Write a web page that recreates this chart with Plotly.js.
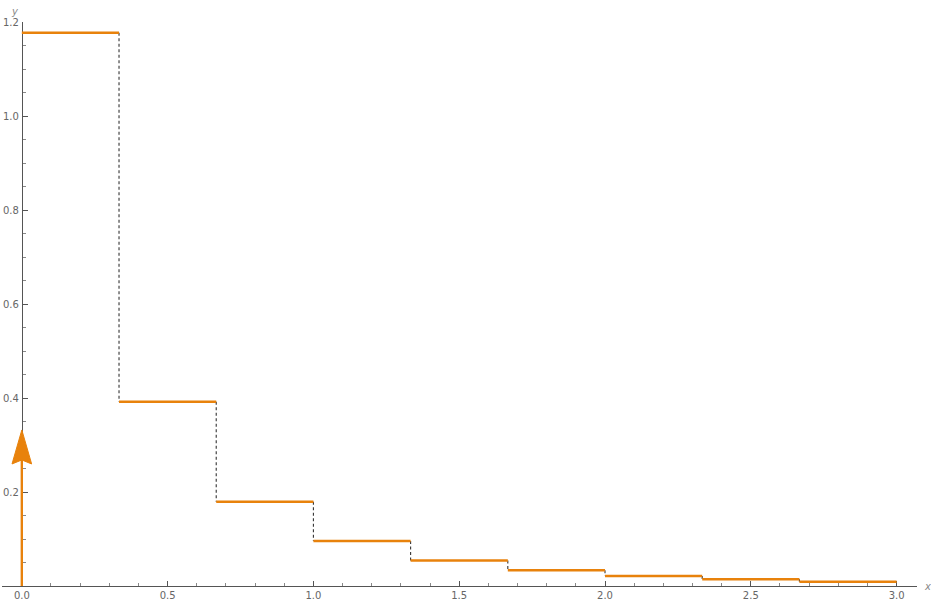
<!DOCTYPE html>
<html>
<head>
<meta charset="utf-8">
<script src="https://cdn.plot.ly/plotly-3.0.1.min.js"></script>
<style>html,body{margin:0;padding:0;background:#fff;}#chart{width:931px;height:605px;}</style>
</head>
<body>
<div id="chart"></div>
<script>
// Data
const stepEdges = [0, 1/3, 2/3, 1, 4/3, 5/3, 2, 7/3, 8/3, 3];
const stepValues = [1.177, 0.392, 0.179, 0.0955, 0.0545, 0.0333, 0.0212, 0.0142, 0.0091];
const deltaPosition = 0;
const deltaHeight = 0.332;
const xTickVals = [0, 0.5, 1, 1.5, 2, 2.5, 3];
const yTickVals = [0.2, 0.4, 0.6, 0.8, 1.0, 1.2];

const ORANGE = '#E8820C';
const W = 931, H = 605;
const M = {l: 2, r: 14, t: 22, b: 19};
const xRange = [-0.068, 3.07], yRange = [0, 1.2];
const pxPerX = (W - M.l - M.r) / (xRange[1] - xRange[0]);
const pxPerY = (H - M.t - M.b) / (yRange[1] - yRange[0]);
const yAxisPos = (0 - xRange[0]) / (xRange[1] - xRange[0]);

// horizontal segments
const hx = [], hy = [];
for (let i = 0; i < stepValues.length; i++) {
  hx.push(stepEdges[i], stepEdges[i+1], null);
  hy.push(stepValues[i], stepValues[i], null);
}
// dashed verticals
const vx = [], vy = [];
for (let i = 1; i < stepValues.length; i++) {
  vx.push(stepEdges[i], stepEdges[i], null);
  vy.push(stepValues[i-1], stepValues[i], null);
}
// arrow (delta spike)
const headLen = 34 / pxPerY, headHalfW = 9.8 / pxPerX, notch = 4 / pxPerY;
const tipY = deltaHeight;
const headX = [deltaPosition, deltaPosition + headHalfW, deltaPosition, deltaPosition - headHalfW, deltaPosition];
const headY = [tipY, tipY - headLen, tipY - headLen + notch, tipY - headLen, tipY];

const traces = [
  {x: vx, y: vy, mode: 'lines', line: {color: '#333', width: 1.1, dash: '3px,2.5px'}, hoverinfo: 'skip', cliponaxis: false},
  {x: hx, y: hy, mode: 'lines', line: {color: ORANGE, width: 2.5}, hoverinfo: 'skip', cliponaxis: false},
  {x: [deltaPosition, deltaPosition], y: [0, tipY - headLen + notch], mode: 'lines', line: {color: ORANGE, width: 2.4}, hoverinfo: 'skip', cliponaxis: false},
  {x: headX, y: headY, mode: 'lines', fill: 'toself', fillcolor: ORANGE, line: {color: ORANGE, width: 1}, hoverinfo: 'skip', cliponaxis: false}
];

const tickFont = {family: 'DejaVu Sans, sans-serif', size: 10, color: '#666'};
const layout = {
  width: W, height: H,
  margin: M,
  showlegend: false,
  paper_bgcolor: '#fff', plot_bgcolor: '#fff',
  xaxis: {
    range: xRange, showgrid: false, zeroline: false, layer: 'below traces',
    showline: true, linecolor: '#555', linewidth: 1,
    tickvals: xTickVals, ticktext: xTickVals.map(v => v.toFixed(1)),
    ticks: 'inside', ticklen: 5, tickcolor: '#555', tickwidth: 1,
    tickfont: tickFont,
    minor: {dtick: 0.1, tick0: 0, ticks: 'inside', ticklen: 3, tickcolor: '#888', showgrid: false}
  },
  yaxis: {
    range: yRange, showgrid: false, zeroline: false, layer: 'below traces',
    anchor: 'free', position: yAxisPos,
    showline: true, linecolor: '#555', linewidth: 1,
    tickvals: yTickVals, ticktext: yTickVals.map(v => v.toFixed(1)),
    ticks: 'inside', ticklen: 5, tickcolor: '#555', tickwidth: 1,
    tickfont: tickFont, ticklabelstandoff: 1,
    minor: {dtick: 0.05, tick0: 0, ticks: 'inside', ticklen: 3, tickcolor: '#888', showgrid: false}
  },
  annotations: [
    {text: 'y', xref: 'paper', yref: 'paper', x: yAxisPos, y: 1, xanchor: 'right', yanchor: 'bottom', xshift: -1, yshift: 3, showarrow: false,
     font: {family: 'DejaVu Sans, sans-serif', size: 10, color: '#888', style: 'italic'}},
    {text: 'x', xref: 'paper', yref: 'paper', x: 1, y: 0, xanchor: 'left', yanchor: 'middle', xshift: 5, showarrow: false,
     font: {family: 'DejaVu Sans, sans-serif', size: 10, color: '#888', style: 'italic'}}
  ]
};
Plotly.newPlot('chart', traces, layout, {displayModeBar: false, staticPlot: true});
</script>
</body>
</html>
